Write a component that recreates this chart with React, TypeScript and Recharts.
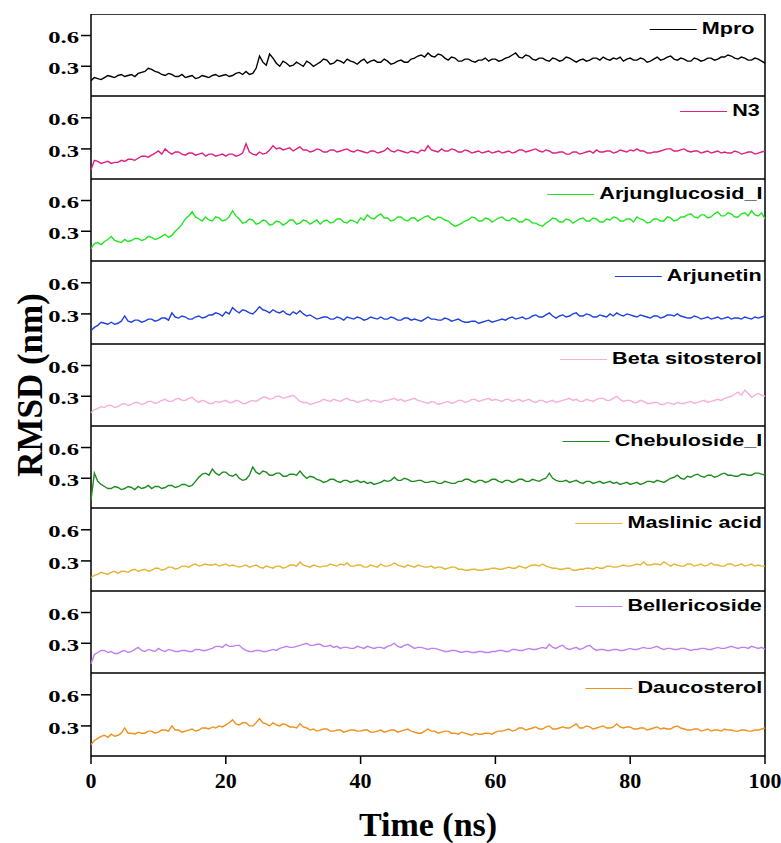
import { LineChart, Line, XAxis, YAxis, ReferenceArea } from "recharts"

// RMSD traces, one sample every 0.5 ns (0..100 ns), 10 ns per row
const MPRO = [
  0.16, 0.19, 0.18, 0.17, 0.19, 0.21, 0.2, 0.19, 0.21, 0.22, 0.2, 0.21, 0.22, 0.2, 0.23, 0.24, 0.25, 0.28, 0.27, 0.25,
  0.24, 0.22, 0.21, 0.23, 0.22, 0.2, 0.2, 0.22, 0.19, 0.2, 0.21, 0.18, 0.19, 0.21, 0.2, 0.19, 0.21, 0.22, 0.2, 0.21,
  0.22, 0.2, 0.21, 0.23, 0.24, 0.22, 0.25, 0.22, 0.23, 0.28, 0.4, 0.34, 0.31, 0.42, 0.38, 0.33, 0.3, 0.35, 0.33, 0.3,
  0.31, 0.34, 0.32, 0.3, 0.35, 0.33, 0.3, 0.32, 0.34, 0.37, 0.36, 0.32, 0.33, 0.36, 0.35, 0.33, 0.37, 0.35, 0.34, 0.32,
  0.35, 0.37, 0.33, 0.35, 0.36, 0.34, 0.34, 0.37, 0.35, 0.32, 0.33, 0.35, 0.36, 0.34, 0.34, 0.37, 0.38, 0.4, 0.41, 0.39,
  0.43, 0.4, 0.39, 0.42, 0.41, 0.38, 0.36, 0.39, 0.38, 0.35, 0.35, 0.37, 0.37, 0.35, 0.34, 0.36, 0.36, 0.38, 0.35, 0.37,
  0.37, 0.35, 0.36, 0.38, 0.39, 0.41, 0.43, 0.39, 0.38, 0.41, 0.4, 0.37, 0.36, 0.38, 0.38, 0.36, 0.35, 0.38, 0.37, 0.35,
  0.36, 0.39, 0.38, 0.36, 0.34, 0.36, 0.37, 0.35, 0.36, 0.38, 0.38, 0.36, 0.39, 0.37, 0.36, 0.38, 0.37, 0.39, 0.35, 0.37,
  0.38, 0.36, 0.36, 0.38, 0.37, 0.34, 0.35, 0.37, 0.39, 0.36, 0.37, 0.39, 0.4, 0.37, 0.36, 0.38, 0.37, 0.35, 0.35, 0.38,
  0.37, 0.35, 0.36, 0.38, 0.38, 0.36, 0.37, 0.39, 0.39, 0.41, 0.4, 0.38, 0.37, 0.39, 0.38, 0.36, 0.36, 0.38, 0.37, 0.35,
  0.33,
]
const N3 = [
  0.1, 0.19, 0.18, 0.16, 0.17, 0.18, 0.16, 0.17, 0.17, 0.19, 0.18, 0.2, 0.2, 0.19, 0.21, 0.23, 0.23, 0.22, 0.24, 0.26,
  0.28, 0.25, 0.3, 0.27, 0.25, 0.27, 0.27, 0.25, 0.24, 0.26, 0.26, 0.24, 0.25, 0.26, 0.23, 0.25, 0.25, 0.23, 0.24, 0.25,
  0.23, 0.25, 0.25, 0.23, 0.24, 0.26, 0.35, 0.27, 0.25, 0.24, 0.27, 0.25, 0.26, 0.29, 0.33, 0.3, 0.31, 0.29, 0.3, 0.31,
  0.28, 0.3, 0.32, 0.29, 0.29, 0.27, 0.28, 0.3, 0.29, 0.27, 0.27, 0.29, 0.29, 0.27, 0.28, 0.29, 0.3, 0.28, 0.27, 0.29,
  0.28, 0.27, 0.26, 0.28, 0.28, 0.26, 0.27, 0.28, 0.31, 0.28, 0.27, 0.29, 0.28, 0.27, 0.26, 0.28, 0.27, 0.26, 0.29, 0.28,
  0.33, 0.29, 0.28, 0.27, 0.3, 0.28, 0.28, 0.3, 0.29, 0.27, 0.27, 0.29, 0.28, 0.26, 0.27, 0.28, 0.26, 0.27, 0.28, 0.26,
  0.27, 0.28, 0.26, 0.27, 0.28, 0.26, 0.27, 0.29, 0.29, 0.27, 0.28, 0.29, 0.3, 0.28, 0.27, 0.29, 0.28, 0.26, 0.26, 0.27,
  0.27, 0.25, 0.25, 0.27, 0.27, 0.25, 0.26, 0.27, 0.28, 0.26, 0.29, 0.27, 0.27, 0.28, 0.28, 0.26, 0.27, 0.29, 0.28, 0.27,
  0.29, 0.28, 0.3, 0.28, 0.28, 0.26, 0.26, 0.27, 0.27, 0.28, 0.29, 0.3, 0.3, 0.28, 0.28, 0.29, 0.3, 0.28, 0.27, 0.28,
  0.28, 0.26, 0.27, 0.28, 0.26, 0.27, 0.28, 0.26, 0.27, 0.26, 0.26, 0.28, 0.27, 0.25, 0.26, 0.27, 0.27, 0.25, 0.26, 0.27,
  0.28,
]
const ARJUNGLUCOSID = [
  0.13, 0.18, 0.19, 0.17, 0.2, 0.22, 0.25, 0.21, 0.2, 0.19, 0.22, 0.2, 0.21, 0.23, 0.23, 0.21, 0.22, 0.25, 0.24, 0.22,
  0.23, 0.25, 0.27, 0.24, 0.26, 0.3, 0.33, 0.37, 0.42, 0.45, 0.49, 0.44, 0.42, 0.4, 0.44, 0.41, 0.4, 0.44, 0.43, 0.4,
  0.41, 0.44, 0.5, 0.45, 0.42, 0.38, 0.39, 0.42, 0.41, 0.37, 0.38, 0.41, 0.4, 0.36, 0.37, 0.4, 0.39, 0.36, 0.38, 0.41,
  0.41, 0.37, 0.38, 0.41, 0.4, 0.37, 0.39, 0.41, 0.37, 0.4, 0.41, 0.38, 0.39, 0.42, 0.42, 0.39, 0.38, 0.41, 0.4, 0.38,
  0.43, 0.41, 0.46, 0.43, 0.42, 0.45, 0.47, 0.43, 0.43, 0.4, 0.41, 0.44, 0.44, 0.41, 0.4, 0.43, 0.43, 0.4, 0.42, 0.44,
  0.45, 0.42, 0.41, 0.44, 0.43, 0.41, 0.4, 0.37, 0.35, 0.36, 0.38, 0.4, 0.41, 0.44, 0.43, 0.4, 0.4, 0.43, 0.42, 0.39,
  0.41, 0.43, 0.44, 0.41, 0.4, 0.43, 0.42, 0.39, 0.39, 0.42, 0.41, 0.38, 0.38, 0.36, 0.35, 0.38, 0.4, 0.43, 0.42, 0.39,
  0.39, 0.42, 0.41, 0.38, 0.4, 0.42, 0.43, 0.4, 0.4, 0.43, 0.42, 0.39, 0.39, 0.42, 0.41, 0.44, 0.43, 0.4, 0.4, 0.42,
  0.42, 0.39, 0.44, 0.42, 0.41, 0.38, 0.39, 0.42, 0.42, 0.4, 0.4, 0.44, 0.43, 0.4, 0.41, 0.44, 0.44, 0.46, 0.47, 0.44,
  0.43, 0.46, 0.46, 0.43, 0.44, 0.47, 0.49, 0.45, 0.45, 0.48, 0.47, 0.44, 0.44, 0.47, 0.48, 0.45, 0.5, 0.46, 0.45, 0.48,
  0.42,
]
const ARJUNETIN = [
  0.14, 0.17, 0.19, 0.22, 0.21, 0.2, 0.22, 0.2, 0.21, 0.23, 0.28, 0.23, 0.22, 0.24, 0.24, 0.22, 0.23, 0.25, 0.25, 0.23,
  0.24, 0.26, 0.26, 0.24, 0.31, 0.27, 0.26, 0.28, 0.27, 0.25, 0.25, 0.27, 0.28, 0.26, 0.27, 0.29, 0.29, 0.31, 0.3, 0.28,
  0.32, 0.3, 0.36, 0.33, 0.31, 0.34, 0.33, 0.31, 0.3, 0.33, 0.37, 0.34, 0.33, 0.31, 0.34, 0.32, 0.31, 0.33, 0.3, 0.29,
  0.32, 0.3, 0.33, 0.3, 0.28, 0.29, 0.27, 0.25, 0.26, 0.27, 0.27, 0.25, 0.25, 0.27, 0.26, 0.24, 0.27, 0.26, 0.25, 0.27,
  0.26, 0.24, 0.25, 0.27, 0.26, 0.25, 0.27, 0.25, 0.25, 0.27, 0.26, 0.24, 0.24, 0.26, 0.26, 0.24, 0.25, 0.24, 0.23, 0.25,
  0.27, 0.25, 0.25, 0.24, 0.24, 0.26, 0.25, 0.23, 0.24, 0.25, 0.23, 0.22, 0.22, 0.23, 0.23, 0.21, 0.22, 0.23, 0.24, 0.22,
  0.23, 0.24, 0.25, 0.24, 0.26, 0.27, 0.25, 0.26, 0.27, 0.25, 0.26, 0.28, 0.29, 0.27, 0.27, 0.29, 0.31, 0.28, 0.26, 0.28,
  0.29, 0.27, 0.28, 0.3, 0.31, 0.28, 0.28, 0.3, 0.29, 0.27, 0.27, 0.29, 0.28, 0.27, 0.3, 0.28, 0.31, 0.29, 0.28, 0.3,
  0.29, 0.28, 0.27, 0.29, 0.28, 0.27, 0.26, 0.28, 0.28, 0.26, 0.27, 0.29, 0.29, 0.28, 0.3, 0.28, 0.27, 0.26, 0.26, 0.28,
  0.27, 0.25, 0.26, 0.27, 0.25, 0.26, 0.27, 0.25, 0.26, 0.27, 0.25, 0.26, 0.26, 0.25, 0.27, 0.26, 0.25, 0.27, 0.26, 0.27,
  0.28,
]
const BETA_SITOSTEROL = [
  0.14, 0.17, 0.18, 0.2, 0.19, 0.21, 0.21, 0.19, 0.2, 0.22, 0.23, 0.21, 0.22, 0.24, 0.24, 0.22, 0.23, 0.25, 0.25, 0.23,
  0.24, 0.26, 0.27, 0.25, 0.25, 0.27, 0.28, 0.26, 0.26, 0.28, 0.29, 0.26, 0.24, 0.26, 0.25, 0.23, 0.23, 0.25, 0.24, 0.25,
  0.26, 0.24, 0.24, 0.26, 0.25, 0.23, 0.23, 0.25, 0.26, 0.25, 0.27, 0.29, 0.29, 0.27, 0.28, 0.3, 0.3, 0.28, 0.29, 0.3,
  0.31, 0.28, 0.25, 0.24, 0.24, 0.22, 0.23, 0.24, 0.25, 0.27, 0.26, 0.25, 0.27, 0.26, 0.25, 0.27, 0.28, 0.26, 0.26, 0.24,
  0.25, 0.26, 0.27, 0.25, 0.26, 0.25, 0.24, 0.26, 0.26, 0.27, 0.28, 0.26, 0.27, 0.25, 0.26, 0.27, 0.28, 0.26, 0.25, 0.24,
  0.23, 0.25, 0.24, 0.22, 0.23, 0.24, 0.25, 0.23, 0.24, 0.26, 0.26, 0.24, 0.25, 0.27, 0.27, 0.25, 0.26, 0.27, 0.28, 0.26,
  0.27, 0.26, 0.25, 0.27, 0.27, 0.25, 0.26, 0.27, 0.25, 0.26, 0.27, 0.25, 0.24, 0.26, 0.26, 0.24, 0.25, 0.26, 0.24, 0.25,
  0.26, 0.27, 0.28, 0.26, 0.27, 0.25, 0.25, 0.27, 0.26, 0.25, 0.27, 0.28, 0.28, 0.26, 0.26, 0.28, 0.3, 0.27, 0.25, 0.26,
  0.26, 0.24, 0.24, 0.26, 0.25, 0.23, 0.23, 0.24, 0.24, 0.22, 0.22, 0.24, 0.23, 0.22, 0.24, 0.23, 0.23, 0.24, 0.25, 0.23,
  0.24, 0.25, 0.26, 0.24, 0.25, 0.26, 0.27, 0.26, 0.28, 0.29, 0.3, 0.32, 0.34, 0.31, 0.36, 0.33, 0.29, 0.31, 0.33, 0.31,
  0.3,
]
const CHEBULOSIDE = [
  0.09, 0.35, 0.27, 0.24, 0.22, 0.2, 0.2, 0.22, 0.21, 0.19, 0.2, 0.22, 0.21, 0.19, 0.22, 0.2, 0.21, 0.23, 0.2, 0.22,
  0.22, 0.2, 0.21, 0.23, 0.23, 0.21, 0.22, 0.24, 0.24, 0.22, 0.23, 0.27, 0.31, 0.34, 0.35, 0.33, 0.39, 0.35, 0.33, 0.36,
  0.36, 0.33, 0.32, 0.34, 0.3, 0.28, 0.29, 0.33, 0.41, 0.36, 0.34, 0.37, 0.36, 0.33, 0.33, 0.35, 0.35, 0.32, 0.32, 0.34,
  0.34, 0.33, 0.37, 0.33, 0.3, 0.32, 0.31, 0.29, 0.28, 0.26, 0.27, 0.29, 0.29, 0.27, 0.26, 0.28, 0.28, 0.26, 0.27, 0.28,
  0.26, 0.27, 0.25, 0.26, 0.24, 0.25, 0.26, 0.28, 0.27, 0.28, 0.31, 0.28, 0.28, 0.3, 0.29, 0.27, 0.27, 0.28, 0.28, 0.26,
  0.26, 0.27, 0.27, 0.25, 0.25, 0.27, 0.26, 0.25, 0.25, 0.27, 0.27, 0.29, 0.29, 0.27, 0.26, 0.28, 0.28, 0.26, 0.27, 0.29,
  0.29, 0.27, 0.26, 0.28, 0.28, 0.26, 0.27, 0.29, 0.29, 0.27, 0.27, 0.29, 0.28, 0.27, 0.29, 0.3, 0.35, 0.3, 0.28, 0.27,
  0.27, 0.28, 0.26, 0.27, 0.28, 0.26, 0.25, 0.27, 0.27, 0.25, 0.26, 0.27, 0.25, 0.26, 0.27, 0.25, 0.26, 0.24, 0.25, 0.26,
  0.24, 0.25, 0.26, 0.24, 0.25, 0.27, 0.27, 0.26, 0.28, 0.27, 0.26, 0.28, 0.3, 0.31, 0.33, 0.3, 0.29, 0.32, 0.31, 0.33,
  0.34, 0.32, 0.31, 0.33, 0.33, 0.31, 0.32, 0.34, 0.35, 0.33, 0.33, 0.32, 0.32, 0.34, 0.34, 0.33, 0.33, 0.35, 0.35, 0.34,
  0.33,
]
const MASLINIC_ACID = [
  0.14, 0.16, 0.17, 0.19, 0.18, 0.17, 0.19, 0.2, 0.18, 0.2, 0.2, 0.19, 0.21, 0.22, 0.2, 0.21, 0.22, 0.2, 0.21, 0.23,
  0.23, 0.21, 0.22, 0.24, 0.24, 0.22, 0.23, 0.25, 0.25, 0.24, 0.26, 0.27, 0.25, 0.26, 0.27, 0.26, 0.26, 0.27, 0.25, 0.26,
  0.27, 0.25, 0.26, 0.25, 0.24, 0.25, 0.26, 0.24, 0.25, 0.26, 0.24, 0.23, 0.25, 0.24, 0.23, 0.25, 0.25, 0.23, 0.24, 0.26,
  0.26, 0.25, 0.29, 0.26, 0.25, 0.24, 0.26, 0.25, 0.24, 0.25, 0.25, 0.27, 0.26, 0.25, 0.27, 0.26, 0.28, 0.25, 0.25, 0.26,
  0.26, 0.24, 0.24, 0.26, 0.25, 0.24, 0.27, 0.25, 0.25, 0.26, 0.28, 0.26, 0.25, 0.24, 0.26, 0.25, 0.24, 0.26, 0.25, 0.24,
  0.24, 0.25, 0.23, 0.24, 0.24, 0.22, 0.23, 0.24, 0.24, 0.22, 0.22, 0.21, 0.21, 0.22, 0.22, 0.21, 0.21, 0.22, 0.22, 0.23,
  0.23, 0.22, 0.22, 0.23, 0.24, 0.23, 0.23, 0.25, 0.24, 0.23, 0.25, 0.26, 0.26, 0.25, 0.27, 0.25, 0.24, 0.23, 0.23, 0.22,
  0.22, 0.23, 0.23, 0.21, 0.21, 0.22, 0.22, 0.23, 0.23, 0.22, 0.24, 0.23, 0.23, 0.25, 0.25, 0.24, 0.24, 0.25, 0.26, 0.25,
  0.25, 0.26, 0.27, 0.26, 0.29, 0.26, 0.26, 0.27, 0.27, 0.26, 0.29, 0.27, 0.25, 0.27, 0.26, 0.25, 0.25, 0.27, 0.27, 0.25,
  0.26, 0.27, 0.25, 0.26, 0.28, 0.26, 0.26, 0.25, 0.25, 0.27, 0.27, 0.25, 0.26, 0.27, 0.25, 0.26, 0.27, 0.25, 0.26, 0.25,
  0.25,
]
const BELLERICOSIDE = [
  0.1, 0.19, 0.21, 0.23, 0.23, 0.21, 0.22, 0.2, 0.2, 0.22, 0.23, 0.21, 0.22, 0.24, 0.26, 0.23, 0.22, 0.24, 0.23, 0.22,
  0.25, 0.23, 0.22, 0.24, 0.23, 0.22, 0.22, 0.23, 0.23, 0.22, 0.22, 0.24, 0.24, 0.23, 0.23, 0.24, 0.25, 0.27, 0.27, 0.26,
  0.29, 0.27, 0.27, 0.28, 0.28, 0.25, 0.23, 0.22, 0.22, 0.23, 0.23, 0.22, 0.22, 0.23, 0.24, 0.23, 0.25, 0.26, 0.27, 0.26,
  0.26, 0.27, 0.28, 0.29, 0.3, 0.28, 0.28, 0.29, 0.29, 0.27, 0.27, 0.28, 0.26, 0.27, 0.25, 0.26, 0.26, 0.25, 0.25, 0.27,
  0.26, 0.25, 0.27, 0.26, 0.25, 0.26, 0.26, 0.25, 0.27, 0.28, 0.3, 0.27, 0.26, 0.28, 0.29, 0.27, 0.25, 0.26, 0.26, 0.25,
  0.24, 0.25, 0.25, 0.24, 0.23, 0.22, 0.22, 0.23, 0.23, 0.22, 0.21, 0.22, 0.22, 0.21, 0.21, 0.22, 0.22, 0.21, 0.21, 0.22,
  0.22, 0.23, 0.23, 0.22, 0.22, 0.24, 0.24, 0.23, 0.23, 0.24, 0.25, 0.24, 0.24, 0.25, 0.26, 0.25, 0.29, 0.26, 0.25, 0.27,
  0.28, 0.25, 0.24, 0.25, 0.26, 0.24, 0.25, 0.27, 0.28, 0.25, 0.23, 0.24, 0.24, 0.23, 0.23, 0.24, 0.24, 0.23, 0.23, 0.24,
  0.25, 0.24, 0.24, 0.25, 0.26, 0.25, 0.25, 0.26, 0.27, 0.25, 0.24, 0.25, 0.25, 0.24, 0.24, 0.25, 0.25, 0.24, 0.23, 0.24,
  0.24, 0.25, 0.25, 0.24, 0.24, 0.25, 0.26, 0.25, 0.25, 0.26, 0.27, 0.26, 0.25, 0.26, 0.26, 0.25, 0.27, 0.26, 0.25, 0.26,
  0.24,
]
const DAUCOSTEROL = [
  0.12, 0.16, 0.18, 0.2, 0.21, 0.19, 0.22, 0.2, 0.21, 0.23, 0.28, 0.23, 0.23, 0.22, 0.24, 0.23, 0.23, 0.25, 0.25, 0.23,
  0.24, 0.26, 0.26, 0.25, 0.3, 0.26, 0.26, 0.24, 0.25, 0.26, 0.27, 0.25, 0.26, 0.28, 0.28, 0.27, 0.29, 0.28, 0.3, 0.29,
  0.31, 0.33, 0.36, 0.32, 0.31, 0.33, 0.33, 0.3, 0.3, 0.33, 0.37, 0.33, 0.32, 0.3, 0.33, 0.31, 0.3, 0.32, 0.31, 0.29,
  0.29, 0.28, 0.32, 0.29, 0.28, 0.26, 0.27, 0.25, 0.26, 0.27, 0.27, 0.25, 0.25, 0.26, 0.26, 0.24, 0.25, 0.26, 0.26, 0.25,
  0.25, 0.26, 0.26, 0.24, 0.24, 0.25, 0.26, 0.24, 0.25, 0.26, 0.26, 0.24, 0.25, 0.26, 0.27, 0.25, 0.24, 0.23, 0.23, 0.25,
  0.27, 0.25, 0.25, 0.23, 0.24, 0.25, 0.25, 0.23, 0.23, 0.22, 0.24, 0.23, 0.22, 0.21, 0.23, 0.22, 0.22, 0.23, 0.23, 0.22,
  0.24, 0.25, 0.25, 0.26, 0.27, 0.25, 0.26, 0.28, 0.28, 0.26, 0.27, 0.28, 0.29, 0.27, 0.27, 0.29, 0.3, 0.27, 0.27, 0.28,
  0.29, 0.28, 0.28, 0.3, 0.32, 0.28, 0.28, 0.3, 0.29, 0.27, 0.28, 0.29, 0.3, 0.28, 0.28, 0.29, 0.32, 0.29, 0.28, 0.29,
  0.29, 0.27, 0.27, 0.28, 0.28, 0.26, 0.27, 0.28, 0.29, 0.27, 0.28, 0.27, 0.27, 0.29, 0.3, 0.28, 0.27, 0.26, 0.26, 0.27,
  0.27, 0.25, 0.26, 0.27, 0.25, 0.26, 0.26, 0.25, 0.27, 0.26, 0.26, 0.25, 0.25, 0.26, 0.26, 0.25, 0.25, 0.26, 0.26, 0.27,
  0.28,
]

const SERIES_NAMES = ["Mpro", "N3", "Arjunglucosid_I", "Arjunetin", "Beta sitosterol", "Chebuloside_I", "Maslinic acid", "Bellericoside", "Daucosterol"]
const SERIES_VALUES = [MPRO, N3, ARJUNGLUCOSID, ARJUNETIN, BETA_SITOSTEROL, CHEBULOSIDE, MASLINIC_ACID, BELLERICOSIDE, DAUCOSTEROL]
const SERIES_COLORS = ["#000000", "#e0207f", "#22e622", "#2040e0", "#f5b0d8", "#1e8c1e", "#e6b432", "#c080f0", "#f0901e"]

const X_TICKS = [0, 20, 40, 60, 80, 100]
const Y_TICKS = [0.3, 0.6]
const STEP_NS = 0.5

const W = 781
const H = 843
const PLOT_LEFT = 91
const PLOT_RIGHT = 16
const PANEL_TOP = 14
const PANEL_H = 82.4
const X_AXIS_H = 40
const Y_DOMAIN = [0.01, 0.81]
// the panels in the figure are squashed vertically, so small texts look wide
const Y_TICK_STRETCH = 1.45
const LEGEND_STRETCH = 1.27
const LEGEND_INSET = [10, 5, 3, 3, 3, 3, 3, 3, 3]
const SERIF = "'Liberation Serif', 'Times New Roman', serif"
const SANS = "'Liberation Sans', Arial, sans-serif"

const panelTop = (i: number) => Math.round(PANEL_TOP + i * PANEL_H)

function XTick({ x, y, payload }: any) {
  return (
    <text
      x={x}
      y={y}
      dy="0.88em"
      textAnchor="middle"
      fill="#000"
      fontFamily={SERIF}
      fontWeight={700}
      fontSize={22}
      style={{ fontFamily: SERIF, fontSize: 22, fontWeight: 700 }}
    >
      {payload.value}
    </text>
  )
}

function YTick({ x, y, payload }: any) {
  return (
    <g transform={`translate(${x},${y}) scale(${Y_TICK_STRETCH},1)`}>
      <text
        x={0}
        y={0}
        dy="0.45em"
        textAnchor="end"
        fill="#000"
        fontFamily={SERIF}
        fontWeight={700}
        fontSize={17}
        style={{ fontFamily: SERIF, fontSize: 17, fontWeight: 700 }}
      >
        {Number(payload.value).toFixed(1)}
      </text>
    </g>
  )
}

type PanelProps = { index: number; name: string; color: string; values: number[]; last: boolean }

function Panel({ index, name, color, values, last }: PanelProps) {
  const data = values.map((v, i) => ({ t: i * STEP_NS, rmsd: v }))
  const top = panelTop(index)
  const plotH = panelTop(index + 1) - top
  const height = last ? plotH + X_AXIS_H : plotH
  return (
    <div style={{ position: "absolute", left: 0, top, width: W, height }}>
      <LineChart width={W} height={height} data={data} margin={{ top: 0, right: PLOT_RIGHT, bottom: 0, left: 0 }}>
        <XAxis
          type="number"
          dataKey="t"
          domain={[0, 100]}
          ticks={X_TICKS}
          hide={!last}
          height={X_AXIS_H}
          axisLine={false}
          tickLine={{ stroke: "#000", strokeWidth: 1.5 }}
          tickSize={8}
          tickMargin={5}
          tick={<XTick />}
        />
        <YAxis
          type="number"
          domain={Y_DOMAIN}
          ticks={Y_TICKS}
          width={PLOT_LEFT}
          allowDataOverflow
          axisLine={false}
          tickLine={{ stroke: "#000", strokeWidth: 1.5 }}
          tickSize={10}
          tickMargin={2}
          tick={<YTick />}
        />
        <Line type="linear" dataKey="rmsd" stroke={color} strokeWidth={1.4} dot={false} isAnimationActive={false} />
        <ReferenceArea
          x1={0}
          x2={100}
          y1={Y_DOMAIN[0]}
          y2={Y_DOMAIN[1]}
          fill="none"
          stroke="#000"
          strokeWidth={1.5}
          ifOverflow="visible"
        />
      </LineChart>
      <div
        style={{
          position: "absolute",
          top: 3,
          right: PLOT_RIGHT + LEGEND_INSET[index],
          display: "flex",
          alignItems: "center",
          height: 24,
          gap: 4,
          transform: `scaleX(${LEGEND_STRETCH})`,
          transformOrigin: "right center",
        }}
      >
        <div style={{ width: 37, height: 0, borderTop: `1px solid ${color}` }} />
        <span style={{ fontFamily: SANS, fontWeight: 700, fontSize: 17, color: "#000", lineHeight: "24px", whiteSpace: "nowrap" }}>
          {name}
        </span>
      </div>
    </div>
  )
}

export default function App() {
  const plotBottom = panelTop(SERIES_NAMES.length)
  return (
    <div style={{ position: "absolute", left: 0, top: 0, width: W, height: H, background: "#fff", overflow: "hidden" }}>
      {SERIES_NAMES.map((name, i) => (
        <Panel
          key={name}
          index={i}
          name={name}
          color={SERIES_COLORS[i]}
          values={SERIES_VALUES[i]}
          last={i === SERIES_NAMES.length - 1}
        />
      ))}
      <div
        style={{
          position: "absolute",
          left: 30,
          top: (PANEL_TOP + plotBottom) / 2,
          transform: "translate(-50%, -50%) rotate(-90deg)",
          fontFamily: SERIF,
          fontWeight: 700,
          fontSize: 35,
          lineHeight: "35px",
          whiteSpace: "nowrap",
          color: "#000",
        }}
      >
        RMSD (nm)
      </div>
      <div
        style={{
          position: "absolute",
          left: PLOT_LEFT + (W - PLOT_LEFT - PLOT_RIGHT) / 2,
          top: 825,
          transform: "translate(-50%, -50%)",
          fontFamily: SERIF,
          fontWeight: 700,
          fontSize: 34,
          lineHeight: "30px",
          whiteSpace: "nowrap",
          color: "#000",
        }}
      >
        Time (ns)
      </div>
    </div>
  )
}
